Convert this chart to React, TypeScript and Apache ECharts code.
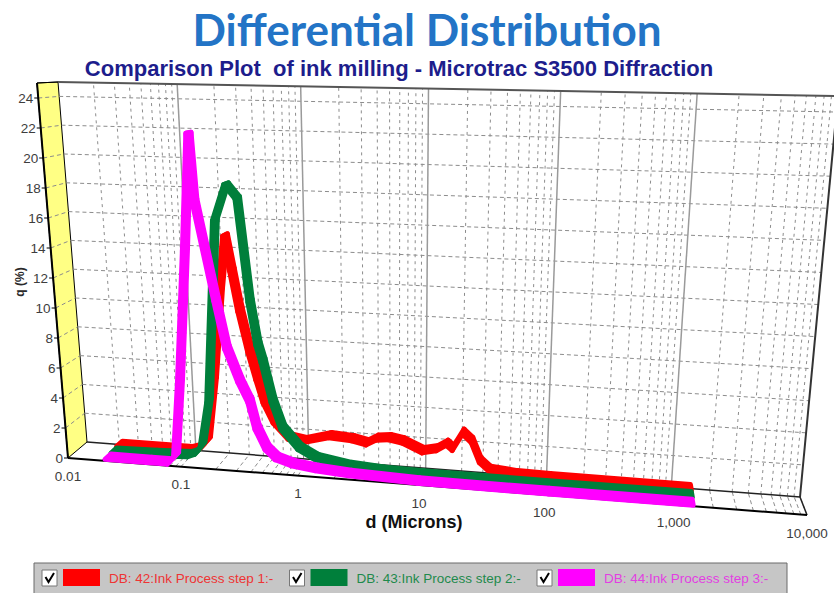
import React, { useEffect, useRef } from 'react';
import * as echarts from 'echarts';

// ---------- texts ----------
const TITLE = 'Differential Distribution';
const SUBTITLE = 'Comparison Plot  of ink milling - Microtrac S3500 Diffraction';
const X_AXIS_NAME = 'd (Microns)';
const Y_AXIS_NAME = 'q (%)';

// ---------- axes ----------
const X_MIN = 0.01;
const X_MAX = 10000;
const Y_MAX = 25;
const X_TICKS = [0.01, 0.1, 1, 10, 100, 1000, 10000];
const X_TICK_LABELS = ['0.01', '0.1', '1', '10', '100', '1,000', '10,000'];
const X_MINOR_MULT = [2, 3, 4, 5, 6, 7, 8, 9];
const Y_TICKS = [0, 2, 4, 6, 8, 10, 12, 14, 16, 18, 20, 22, 24];

// ---------- series ----------
const SERIES_NAMES = [
  'DB: 42:Ink Process step 1:-',
  'DB: 43:Ink Process step 2:-',
  'DB: 44:Ink Process step 3:-',
];
const SERIES_COLORS = ['#ff0000', '#007f3b', '#ff00ff'];
const LEGEND_TEXT_COLORS = ['#ee3434', '#1f8a4c', '#e23fe2'];

const STEP1_D = [0.0215, 0.05, 0.094, 0.12, 0.137, 0.164, 0.2, 0.23, 0.256, 0.291, 0.344, 0.395, 0.448, 0.54, 0.72, 0.97, 1.6, 2.5, 3.3, 4.0, 5.1, 6.6, 9.7, 12.7, 15.3, 17.2, 20.7, 24.5, 28.7, 34.9, 58, 107, 1408];
const STEP1_Q = [0.25, 0.25, 0.25, 0.5, 1.0, 5.1, 11.2, 14.9, 12.6, 9.9, 7.2, 5.4, 3.9, 2.6, 1.6, 1.45, 1.9, 1.8, 1.6, 1.95, 2.05, 1.9, 1.35, 1.55, 1.95, 1.65, 2.75, 2.25, 1.0, 0.45, 0.3, 0.28, 0.25];

const STEP2_D = [0.0215, 0.05, 0.103, 0.12, 0.135, 0.161, 0.211, 0.268, 0.327, 0.389, 0.44, 0.48, 0.57, 0.68, 0.94, 1.31, 2.5, 4.7, 10, 100, 1408];
const STEP2_Q = [0.15, 0.2, 0.3, 0.5, 1.0, 4.0, 16.1, 18.5, 17.6, 10.8, 8.0, 6.9, 4.3, 2.56, 1.33, 0.75, 0.39, 0.25, 0.2, 0.18, 0.18];

const STEP3_D = [0.0215, 0.05, 0.076, 0.087, 0.102, 0.128, 0.152, 0.16, 0.222, 0.263, 0.33, 0.396, 0.446, 0.534, 0.647, 0.88, 1.4, 2.64, 9.7, 108, 1408];
const STEP3_Q = [0.1, 0.1, 0.1, 0.56, 5.5, 14.2, 21.9, 17.5, 11.0, 7.9, 5.8, 4.5, 2.8, 1.53, 0.93, 0.61, 0.41, 0.25, 0.1, 0.06, 0.06];

const SERIES_D = [STEP1_D, STEP2_D, STEP3_D];
const SERIES_Q = [STEP1_Q, STEP2_Q, STEP3_Q];

// ---------- 3D look: box corners (layout) ----------
const BACK = { bl: [87, 442], br: [800, 497], tl: [58, 82], tr: [838, 96] };
const FRONT = { bl: [68, 458], br: [807, 515], tl: [37, 83], tr: [846, 99] };
const PERSP = 0.1;
const DEPTHS = [
  [2 / 3, 1],
  [1 / 3, 2 / 3],
  [0, 1 / 3],
];

const FONT = "'Liberation Sans', Arial, sans-serif";

function proj(s: number, t: number, w: number): number[] {
  const f = s - PERSP * s * (1 - s);
  const pl = (P: any) => {
    const bx = P.bl[0] + (P.br[0] - P.bl[0]) * f;
    const by = P.bl[1] + (P.br[1] - P.bl[1]) * f;
    const tx = P.tl[0] + (P.tr[0] - P.tl[0]) * f;
    const ty = P.tl[1] + (P.tr[1] - P.tl[1]) * f;
    return [bx + (tx - bx) * t, by + (ty - by) * t];
  };
  const b = pl(BACK);
  const fr = pl(FRONT);
  return [fr[0] + (b[0] - fr[0]) * w, fr[1] + (b[1] - fr[1]) * w];
}

function toST(api: any, d: number, q: number): number[] {
  const o = api.coord([X_MIN, 0]);
  const e = api.coord([X_MAX, Y_MAX]);
  const c = api.coord([d, q]);
  return [(c[0] - o[0]) / (e[0] - o[0]), (c[1] - o[1]) / (e[1] - o[1])];
}

function line(a: number[], b: number[], style: any) {
  return { type: 'line', shape: { x1: a[0], y1: a[1], x2: b[0], y2: b[1] }, style };
}

function text(x: number, y: number, str: string, style: any) {
  return {
    type: 'text',
    x,
    y,
    style: Object.assign({ text: str }, style),
  };
}

function renderFrame(params: any, api: any) {
  const ch: any[] = [];
  const dash = { stroke: '#8c8c8c', lineWidth: 1, lineDash: [4, 3] };
  const dashV = { stroke: '#8c8c8c', lineWidth: 1, lineDash: [3, 4] };
  // left (yellow) wall
  ch.push({
    type: 'polygon',
    shape: { points: [proj(0, 0, 0), proj(0, 1, 0), proj(0, 1, 1), proj(0, 0, 1)] },
    style: { fill: '#ffff84', stroke: '#000', lineWidth: 1 },
  });
  // horizontal lines
  Y_TICKS.forEach((v) => {
    const st = toST(api, X_MIN, v);
    if (v > 0) {
      ch.push(line(proj(0, st[1], 1), proj(1, st[1], 1), dash));
      ch.push(line(proj(0, st[1], 0), proj(0, st[1], 1), dash));
    }
  });
  // vertical lines
  for (let k = 0; k < X_TICKS.length; k++) {
    const base = X_TICKS[k];
    const major = toST(api, base, 0)[0];
    if (k > 0 && k < X_TICKS.length - 1) {
      ch.push(line(proj(major, 0, 1), proj(major, 1, 1), { stroke: '#9a9a9a', lineWidth: 1.5 }));
    }
    if (k > 0) ch.push(line(proj(major, 0, 0), proj(major, 0, 1), dash));
    if (k < X_TICKS.length - 1) {
      X_MINOR_MULT.forEach((m) => {
        const s = toST(api, base * m, 0)[0];
        ch.push(line(proj(s, 0, 1), proj(s, 1, 1), dashV));
        ch.push(line(proj(s, 0, 0), proj(s, 0, 1), dash));
      });
    }
  }
  // borders
  ch.push(line(proj(0, 1, 1), proj(1, 1, 1), { stroke: '#555', lineWidth: 2 }));
  ch.push(line(proj(1, 0, 1), proj(1, 1, 1), { stroke: '#333', lineWidth: 2 }));
  ch.push(line(proj(0, 0, 1), proj(1, 0, 1), { stroke: '#222', lineWidth: 1.5 }));
  ch.push(line(proj(1, 0, 0), proj(1, 0, 1), { stroke: '#222', lineWidth: 1.5 }));
  ch.push(line(proj(0, 0, 0), proj(1, 0, 0), { stroke: '#000', lineWidth: 2 }));
  ch.push(line(proj(0, 0, 0), proj(0, 1, 0), { stroke: '#000', lineWidth: 2 }));
  ch.push(line(proj(0, 1, 0), proj(0, 1, 1), { stroke: '#000', lineWidth: 1 }));
  // y tick labels
  Y_TICKS.forEach((v) => {
    const st = toST(api, X_MIN, v);
    const p = proj(0, st[1], 0);
    ch.push(line([p[0] - 4, p[1]], p, { stroke: '#000', lineWidth: 1 }));
    ch.push(
      text(p[0] - 5, p[1], String(v), {
        fill: '#3d3d3d',
        font: `13.5px ${FONT}`,
        textAlign: 'right',
        textVerticalAlign: 'middle',
        align: 'right',
        verticalAlign: 'middle',
      })
    );
  });
  // x tick labels
  X_TICKS.forEach((d, i) => {
    const st = toST(api, d, 0);
    const p = proj(st[0], 0, 0);
    ch.push(
      text(p[0], p[1] + 18, X_TICK_LABELS[i], {
        fill: '#3d3d3d',
        font: `13.5px ${FONT}`,
        textAlign: 'center',
        textVerticalAlign: 'middle',
        align: 'center',
        verticalAlign: 'middle',
      })
    );
  });
  return { type: 'group', children: ch };
}

function makeRibbon(k: number) {
  return (params: any, api: any) => {
    const i = params.dataIndex;
    if (i === 0) return null;
    const D = SERIES_D[k];
    const Q = SERIES_Q[k];
    const a = toST(api, D[i - 1], Q[i - 1]);
    const b = toST(api, api.value(0), api.value(1));
    const [w0, w1] = DEPTHS[k];
    const pts = [proj(a[0], a[1], w0), proj(b[0], b[1], w0), proj(b[0], b[1], w1), proj(a[0], a[1], w1)];
    return {
      type: 'polygon',
      shape: { points: pts },
      style: { fill: SERIES_COLORS[k], stroke: SERIES_COLORS[k], lineWidth: 5, lineJoin: 'round' },
    };
  };
}

function legendGraphics() {
  const els: any[] = [
    {
      type: 'rect',
      shape: { x: 34, y: 563, width: 753, height: 40 },
      style: { fill: '#c6c6c6', stroke: '#6a6a6a', lineWidth: 1 },
    },
  ];
  SERIES_NAMES.forEach((name, i) => {
    const bx = 42 + i * 247.5;
    els.push({ type: 'rect', shape: { x: bx, y: 570, width: 15, height: 16 }, style: { fill: '#fff', stroke: '#777', lineWidth: 1 } });
    els.push({
      type: 'polyline',
      shape: { points: [[bx + 3.5, 577], [bx + 6.5, 582], [bx + 12, 573]] },
      style: { stroke: '#000', lineWidth: 2, fill: null },
    });
    els.push({ type: 'rect', shape: { x: bx + 21, y: 569, width: 37, height: 17 }, style: { fill: SERIES_COLORS[i] } });
    els.push({
      type: 'text',
      x: bx + 67,
      y: 578,
      style: {
        text: name,
        fill: LEGEND_TEXT_COLORS[i],
        font: `13.5px ${FONT}`,
        textAlign: 'left',
        textVerticalAlign: 'middle',
        align: 'left',
        verticalAlign: 'middle',
      },
    });
  });
  return els;
}

export default function App() {
  const ref = useRef<HTMLDivElement>(null);
  useEffect(() => {
    document.body.style.margin = '0';
    if (!ref.current) return;
    const chart = echarts.init(ref.current, undefined, { renderer: 'svg' });
    const seriesList: any[] = [
      {
        type: 'custom',
        name: 'frame',
        coordinateSystem: 'cartesian2d',
        data: [[X_MIN, 0]],
        renderItem: renderFrame,
        z: 1,
        silent: true,
      },
    ];
    SERIES_NAMES.forEach((name, k) => {
      seriesList.push({
        type: 'custom',
        name,
        coordinateSystem: 'cartesian2d',
        data: SERIES_D[k].map((d, i) => [d, SERIES_Q[k][i]]),
        renderItem: makeRibbon(k),
        z: 2 + k,
        silent: true,
      });
    });
    chart.setOption({
      animation: false,
      backgroundColor: '#ffffff',
      grid: { left: 0, right: 0, top: 0, bottom: 0, show: false },
      xAxis: { type: 'log', logBase: 10, min: X_MIN, max: X_MAX, show: false },
      yAxis: { type: 'value', min: 0, max: Y_MAX, show: false },
      graphic: [
        {
          type: 'text',
          x: 427,
          y: 29,
          style: {
            text: TITLE,
            fill: '#2374c6',
            font: `bold 44px Lato, 'Open Sans', sans-serif`,
            textAlign: 'center',
            textVerticalAlign: 'middle',
            align: 'center',
            verticalAlign: 'middle',
          },
        },
        {
          type: 'text',
          x: 399,
          y: 68,
          style: {
            text: SUBTITLE,
            fill: '#1d1d8c',
            font: `bold 22px ${FONT}`,
            textAlign: 'center',
            textVerticalAlign: 'middle',
            align: 'center',
            verticalAlign: 'middle',
          },
        },
        {
          type: 'text',
          x: 414,
          y: 522,
          style: {
            text: X_AXIS_NAME,
            fill: '#111',
            font: `bold 18px ${FONT}`,
            textAlign: 'center',
            textVerticalAlign: 'middle',
            align: 'center',
            verticalAlign: 'middle',
          },
        },
        {
          type: 'text',
          x: 20,
          y: 282,
          rotation: Math.PI / 2,
          style: {
            text: Y_AXIS_NAME,
            fill: '#2a2a2a',
            font: `bold 12px ${FONT}`,
            textAlign: 'center',
            textVerticalAlign: 'middle',
            align: 'center',
            verticalAlign: 'middle',
          },
        },
        ...legendGraphics(),
      ],
      series: seriesList,
    });
    return () => chart.dispose();
  }, []);
  return <div ref={ref} style={{ width: 834, height: 593 }} />;
}
